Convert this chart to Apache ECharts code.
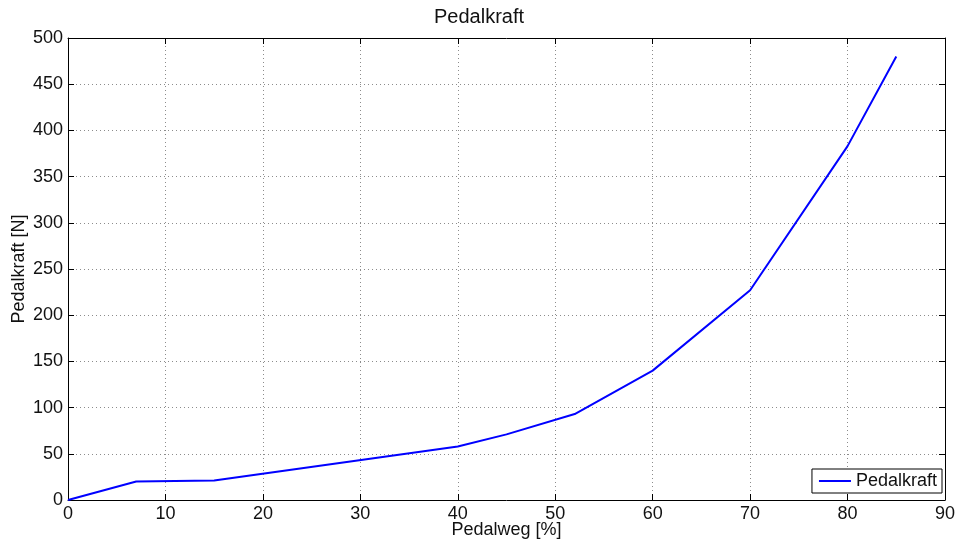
<!DOCTYPE html>
<html>
<head>
<meta charset="utf-8">
<script src="https://cdn.jsdelivr.net/npm/echarts@6/dist/echarts.min.js"></script>
<style>
  html, body { margin: 0; padding: 0; background: #fff; }
  #chart { width: 958px; height: 543px; }
</style>
</head>
<body>
<div id="chart"></div>
<script>
// Pedalweg [%] / Pedalkraft [N]
var pedalweg = [0, 7, 15, 40, 45, 52, 60, 70, 80, 85];
var pedalkraft = [0, 20, 21, 58, 71, 93, 140, 227, 383, 480];
var xTicks = [0, 90, 10];
var yTicks = [0, 500, 50];

var points = pedalweg.map(function (x, i) { return [x, pedalkraft[i]]; });

var font = 'Liberation Sans, Arial, Helvetica, sans-serif';
var gridLine = { show: true, lineStyle: { color: '#8c8c8c', type: [1, 3], width: 1 } };
var frame = { show: true, onZero: false, lineStyle: { color: '#000', width: 1 } };
var ticks = { show: true, inside: true, length: 6, lineStyle: { color: '#000' } };

var chart = echarts.init(document.getElementById('chart'));
chart.setOption({
    animation: false,
    textStyle: { fontFamily: font },
    title: {
        text: 'Pedalkraft',
        left: 'center',
        top: 2,
        textStyle: { fontSize: 20, fontWeight: 'normal', color: '#111', fontFamily: font }
    },
    legend: {
        right: 16,
        top: 469,
        data: [{ name: 'Pedalkraft', icon: 'rect' }],
        itemWidth: 32,
        itemHeight: 2,
        padding: [3, 5, 3, 7],
        borderColor: '#000',
        borderWidth: 1,
        borderRadius: 0,
        backgroundColor: '#fff',
        textStyle: { fontSize: 18, color: '#111', fontFamily: font }
    },
    grid: { left: 68, right: 13, top: 38, bottom: 43, containLabel: false, outerBoundsMode: 'none' },
    xAxis: [
        {
            type: 'value',
            min: xTicks[0], max: xTicks[1], interval: xTicks[2],
            name: 'Pedalweg [%]',
            nameLocation: 'middle',
            nameGap: 21,
            nameMoveOverlap: false,
            nameTextStyle: { fontSize: 18, color: '#111' },
            axisLine: frame,
            axisTick: ticks,
            axisLabel: { fontSize: 18, color: '#111', margin: 5 },
            splitLine: gridLine
        },
        {
            type: 'value', position: 'top',
            min: xTicks[0], max: xTicks[1], interval: xTicks[2],
            axisLine: frame,
            axisTick: ticks,
            axisLabel: { show: false },
            splitLine: { show: false }
        }
    ],
    yAxis: [
        {
            type: 'value',
            min: yTicks[0], max: yTicks[1], interval: yTicks[2],
            name: 'Pedalkraft [N]',
            nameLocation: 'middle',
            nameGap: 40,
            nameMoveOverlap: false,
            nameTextStyle: { fontSize: 18, color: '#111' },
            axisLine: frame,
            axisTick: ticks,
            axisLabel: { fontSize: 18, color: '#111', margin: 5 },
            splitLine: gridLine
        },
        {
            type: 'value', position: 'right',
            min: yTicks[0], max: yTicks[1], interval: yTicks[2],
            axisLine: frame,
            axisTick: ticks,
            axisLabel: { show: false },
            splitLine: { show: false }
        }
    ],
    series: [
        {
            name: 'Pedalkraft',
            type: 'line',
            data: points,
            symbol: 'none',
            lineStyle: { color: '#0000ff', width: 2 },
            itemStyle: { color: '#0000ff' }
        }
    ]
});
</script>
</body>
</html>
